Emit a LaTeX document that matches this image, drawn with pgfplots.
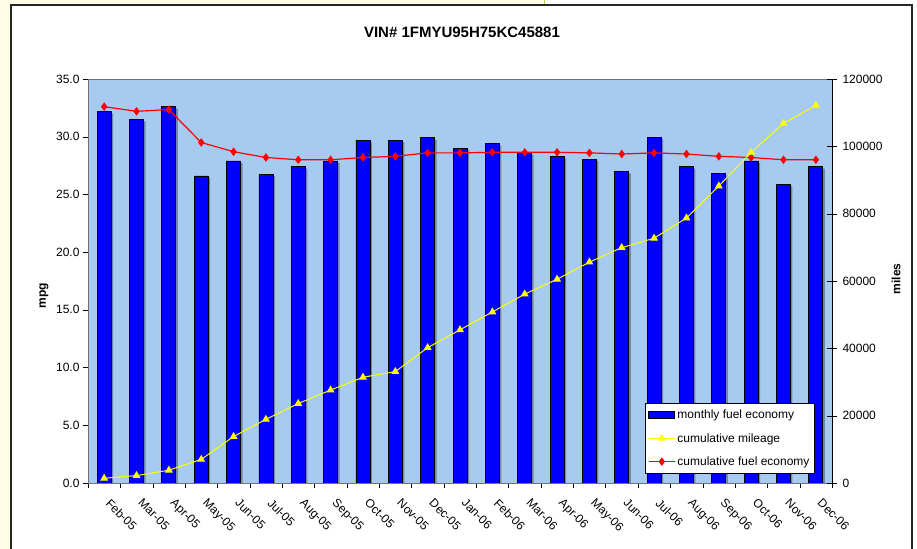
\documentclass[border=0pt]{standalone}
\usepackage{pgfplots}
\pgfplotsset{compat=1.18}
\usepackage{pgfplotstable}
\usepackage{fontspec}
\setmainfont{Liberation Sans}
\definecolor{plotbg}{HTML}{A6CAF0}
\definecolor{barblue}{HTML}{0000FF}
\definecolor{shadowc}{HTML}{6F87A8}
\definecolor{pageyel}{HTML}{FFFDE6}
\definecolor{mileyel}{HTML}{FFFF00}
\definecolor{greenline}{HTML}{BCC84A}

\pgfplotsset{
  linelegend/.style={legend image code/.code={\draw[mark repeat=2, mark phase=2, ##1] plot coordinates {(0bp,0bp) (13bp,0bp) (26bp,0bp)};}},
  barlegend/.style={legend image code/.code={\draw[fill=barblue, draw=black, line width=0.8bp] (0bp,-3.5bp) rectangle (26bp,3.5bp);}},
}

\pgfplotstableread{
idx mpg cumfe miles
0 32.2 32.6 1400
1 31.5 32.2 2200
2 32.6 32.35 3800
3 26.6 29.5 7000
4 27.9 28.7 13800
5 26.75 28.2 18900
6 27.4 28.0 23600
7 27.9 28.0 27600
8 29.7 28.2 31400
9 29.7 28.3 33100
10 29.9 28.6 40200
11 29.0 28.6 45500
12 29.4 28.65 50800
13 28.6 28.65 56100
14 28.3 28.65 60500
15 28.05 28.6 65600
16 27.0 28.5 69900
17 29.95 28.6 72700
18 27.4 28.5 78700
19 26.8 28.3 88200
20 27.9 28.2 98200
21 25.9 28.0 106800
22 27.4 28.0 112200
}\datatable

\newcommand{\tickfont}{\fontsize{12bp}{14bp}\selectfont}

\begin{document}
\begin{tikzpicture}[x=1bp,y=1bp]
\path[use as bounding box] (0,0) rectangle (917,549);
\fill[white] (0,0) rectangle (917,549);
\fill[pageyel] (0,0) rectangle (11,549);
\fill[pageyel] (0,544) rectangle (544,549);
\draw[greenline, line width=1bp] (544,544) -- (544,549);
\draw[black!85, line width=1.3bp] (11,-5) |- (912,544) -- (912,-5);
\node[font=\fontsize{15bp}{17bp}\selectfont\bfseries] at (462,517) {VIN\# 1FMYU95H75KC45881};

\begin{axis}[
  at={(88bp,66bp)}, anchor=south west,
  scale only axis, width=744bp, height=404bp,
  xmin=-0.5, xmax=22.5, ymin=0, ymax=35,
  axis background/.style={fill=plotbg},
  axis line style={black!55},
  xtick={0,...,22},
  xticklabels={Feb-05,Mar-05,Apr-05,May-05,Jun-05,Jul-05,Aug-05,Sep-05,Oct-05,Nov-05,Dec-05,Jan-06,Feb-06,Mar-06,Apr-06,May-06,Jun-06,Jul-06,Aug-06,Sep-06,Oct-06,Nov-06,Dec-06},
  major x tick style={draw=none},
  minor xtick={-0.5,0.5,...,22.5},
  minor x tick style={black},
  y tick style={black},
  tick align=outside,
  major tick length=5bp, minor tick length=5bp,
  xtick pos=bottom, ytick pos=left,
  ytick={0,5,...,35},
  /pgf/number format/assume math mode=true,
  yticklabel style={/pgf/number format/fixed, /pgf/number format/fixed zerofill, /pgf/number format/precision=1, font=\tickfont},
  xticklabel style={xshift=7bp, yshift=-5bp, rotate=-45, anchor=north west, font=\tickfont},
  every axis y label/.style={at={(axis description cs:0,0.463)}, xshift=-44bp, rotate=90, anchor=center, font=\fontsize{12bp}{14bp}\selectfont\bfseries},
  ylabel={mpg},
]
\addplot[ybar, bar width=14bp, fill=shadowc, draw=none, xshift=2bp, yshift=-2bp, forget plot] table[x=idx,y=mpg]{\datatable};
\addplot[ybar, bar width=14bp, fill=barblue, draw=black, line width=0.8bp, forget plot] table[x=idx,y=mpg]{\datatable};
\addplot[red, line width=1.2bp, mark=diamond*, mark size=3.3bp, mark options={fill=red}, forget plot] table[x=idx,y=cumfe]{\datatable};
\end{axis}

\begin{axis}[
  at={(88bp,66bp)}, anchor=south west,
  scale only axis, width=744bp, height=404bp,
  xmin=-0.5, xmax=22.5, ymin=0, ymax=120000,
  axis x line=none, axis y line*=right,
  axis line style={black},
  y tick style={black},
  ytick={0,20000,...,120000},
  scaled y ticks=false,
  ytick align=center,
  major tick length=10bp,
  /pgf/number format/assume math mode=true,
  yticklabel style={/pgf/number format/fixed, /pgf/number format/1000 sep={}, font=\tickfont, xshift=2bp},
  every axis y label/.style={at={(axis description cs:1,0.505)}, xshift=64bp, rotate=90, anchor=center, font=\fontsize{12bp}{14bp}\selectfont\bfseries},
  ylabel={miles},
  legend style={at={(0.977,0.022)}, anchor=south east, draw=black, fill=white, font=\tickfont, row sep=9bp, inner xsep=3bp, inner ysep=5bp, line width=0.8bp},
  legend cell align=left,
]
\addlegendimage{barlegend}
\addlegendentry{monthly fuel economy}
\addplot[mileyel, line width=1bp, mark=triangle*, mark size=3.6bp, mark options={fill=mileyel}, linelegend] table[x=idx,y=miles]{\datatable};
\addlegendentry{cumulative mileage}
\addlegendimage{red, line width=1.2bp, mark=diamond*, mark size=3.3bp, mark options={fill=red}, linelegend}
\addlegendentry{cumulative fuel economy}
\end{axis}
\end{tikzpicture}
\end{document}
